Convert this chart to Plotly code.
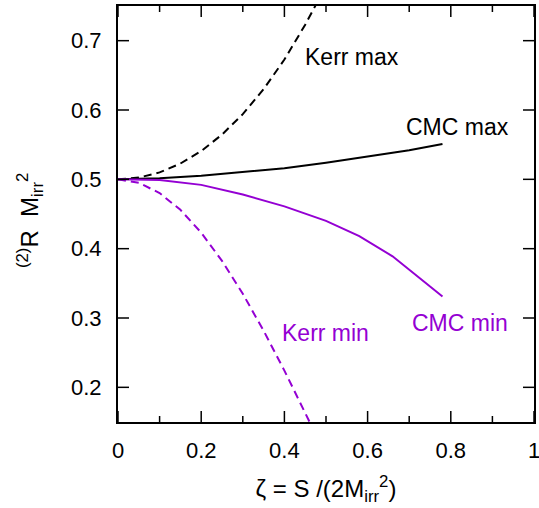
import plotly.graph_objects as go

# Data
kerr_max_x = [0.0, 0.05, 0.1, 0.15, 0.2, 0.25, 0.3, 0.35, 0.4, 0.45, 0.475]
kerr_max_y = [0.5, 0.5025, 0.510, 0.5228, 0.5408, 0.5645, 0.594, 0.630, 0.6728, 0.723, 0.751]

kerr_min_x = [0.0, 0.05, 0.1, 0.15, 0.2, 0.25, 0.3, 0.35, 0.4, 0.45, 0.46]
kerr_min_y = [0.5, 0.495, 0.4802, 0.456, 0.4231, 0.3824, 0.3349, 0.2817, 0.2241, 0.1632, 0.1507]

cmc_max_x = [0.0, 0.1, 0.2, 0.3, 0.4, 0.5, 0.6, 0.7, 0.78]
cmc_max_y = [0.5, 0.5015, 0.505, 0.510, 0.516, 0.524, 0.533, 0.542, 0.551]

cmc_min_x = [0.0, 0.1, 0.2, 0.3, 0.4, 0.5, 0.58, 0.66, 0.78]
cmc_min_y = [0.5, 0.499, 0.492, 0.478, 0.461, 0.440, 0.418, 0.389, 0.331]

x_ticks = [0, 0.2, 0.4, 0.6, 0.8, 1]
x_tick_labels = ["0", "0.2", "0.4", "0.6", "0.8", "1"]
x_minor_ticks = [0.1, 0.3, 0.5, 0.7, 0.9]
y_ticks = [0.2, 0.3, 0.4, 0.5, 0.6, 0.7]
y_tick_labels = ["0.2", "0.3", "0.4", "0.5", "0.6", "0.7"]

BLACK = "#000000"
PURPLE = "#9400D3"
FONT = "Liberation Sans, Arial, Helvetica, sans-serif"

fig = go.Figure()
fig.add_trace(go.Scatter(x=kerr_max_x, y=kerr_max_y, mode="lines",
                         line=dict(color=BLACK, width=2, dash="8px,5px")))
fig.add_trace(go.Scatter(x=kerr_min_x, y=kerr_min_y, mode="lines",
                         line=dict(color=PURPLE, width=2, dash="8px,5px")))
fig.add_trace(go.Scatter(x=cmc_max_x, y=cmc_max_y, mode="lines",
                         line=dict(color=BLACK, width=2)))
fig.add_trace(go.Scatter(x=cmc_min_x, y=cmc_min_y, mode="lines",
                         line=dict(color=PURPLE, width=2)))

labels = [
    ("Kerr max", 0.5625, 0.677, BLACK),
    ("CMC max", 0.815, 0.575, BLACK),
    ("Kerr min", 0.498, 0.278, PURPLE),
    ("CMC min", 0.822, 0.293, PURPLE),
]
for txt, lx, ly, col in labels:
    fig.add_annotation(x=lx, y=ly, text=txt, showarrow=False,
                       font=dict(size=23, color=col, family=FONT),
                       xanchor="center", yanchor="middle")

# y-axis title as a rotated annotation
fig.add_annotation(xref="paper", yref="paper", x=-0.2115, y=0.483,
                   text="<sup>(2)</sup>R  M<sub>irr</sub><sup>2</sup>",
                   textangle=-90, showarrow=False, xanchor="center", yanchor="middle",
                   font=dict(size=24, family=FONT, color=BLACK))

# inside tick marks on all four sides (tick length as paper fraction of 416 px)
MAJ = 11 / 416
MIN = 6 / 416
tick_line = dict(color=BLACK, width=1.5)
for v in x_ticks:
    fig.add_shape(type="line", xref="x", yref="paper", x0=v, x1=v, y0=0, y1=MAJ, line=tick_line)
    fig.add_shape(type="line", xref="x", yref="paper", x0=v, x1=v, y0=1, y1=1 - MAJ, line=tick_line)
for v in x_minor_ticks:
    fig.add_shape(type="line", xref="x", yref="paper", x0=v, x1=v, y0=0, y1=MIN, line=tick_line)
    fig.add_shape(type="line", xref="x", yref="paper", x0=v, x1=v, y0=1, y1=1 - MIN, line=tick_line)
for v in y_ticks:
    fig.add_shape(type="line", xref="paper", yref="y", x0=0, x1=MAJ, y0=v, y1=v, line=tick_line)
    fig.add_shape(type="line", xref="paper", yref="y", x0=1, x1=1 - MAJ, y0=v, y1=v, line=tick_line)

fig.update_xaxes(range=[0, 1], tickvals=x_ticks, ticktext=x_tick_labels,
                 ticks="", showline=True, linewidth=2, linecolor=BLACK, mirror=True,
                 showgrid=False, zeroline=False, automargin=False,
                 ticklabeloverflow="allow", ticklabelstandoff=8,
                 tickfont=dict(size=22, family=FONT, color=BLACK),
                 title=dict(text="ζ = S /(2M<sub>irr</sub><sup>2</sup>)",
                            font=dict(size=24, family=FONT, color=BLACK), standoff=18))
fig.update_yaxes(range=[0.15, 0.75], tickvals=y_ticks, ticktext=y_tick_labels,
                 ticks="", showline=True, linewidth=2, linecolor=BLACK, mirror=True,
                 showgrid=False, zeroline=False, automargin=False, ticklabelstandoff=10,
                 tickfont=dict(size=22, family=FONT, color=BLACK))

fig.update_layout(width=539, height=508, showlegend=False,
                  margin=dict(l=118, r=5, t=6, b=86),
                  plot_bgcolor="white", paper_bgcolor="white")

fig.write_html("out.html", config={"displayModeBar": False},
               post_script="document.body.style.margin='0px';document.body.style.overflow='hidden';")
